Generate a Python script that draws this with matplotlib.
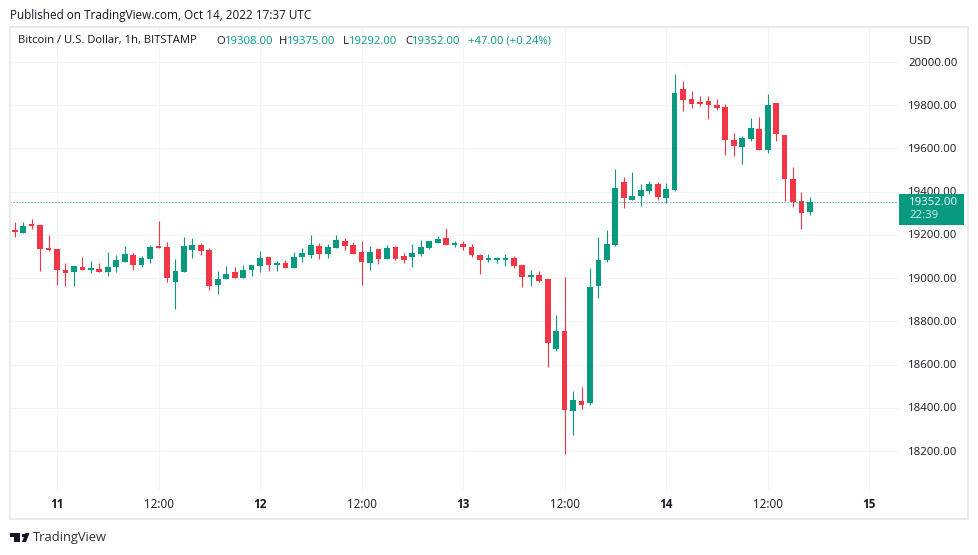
import numpy as np
import matplotlib
matplotlib.use("Agg")
from matplotlib import pyplot as plt
from matplotlib.patches import Polygon, Rectangle

# hours since Oct 11 00:00, one candle per hour
hours = list(range(-5, 90))

opens = [19223, 19211, 19248, 19246, 19140, 19133, 19038, 19029, 19052, 19038,
         19042, 19029, 19052, 19076, 19107, 19061, 19090, 19149, 19144, 18982,
         19029, 19130, 19154, 19130, 18968, 18996, 19029, 19001, 19038, 19056,
         19098, 19062, 19068, 19047, 19098, 19109, 19149, 19112, 19141, 19172,
         19153, 19121, 19070, 19135, 19088, 19144, 19102, 19098, 19112, 19139,
         19163, 19186, 19155, 19158, 19143, 19107, 19084, 19084, 19084, 19093,
         19061, 19005, 19015, 18996, 18672, 18755, 18385, 18432, 18422, 18964,
         19084, 19153, 19445, 19361, 19380, 19403, 19435, 19371, 19408, 19875,
         19829, 19815, 19819, 19801, 19792, 19639, 19607, 19644, 19690, 19593,
         19810, 19662, 19459, 19357, 19308]
highs = [19258, 19258, 19274, 19248, 19200, 19133, 19069, 19056, 19096, 19080,
         19069, 19121, 19107, 19149, 19115, 19103, 19154, 19266, 19167, 19089,
         19192, 19184, 19161, 19138, 19033, 19058, 19053, 19061, 19061, 19127,
         19099, 19081, 19084, 19122, 19141, 19200, 19161, 19158, 19200, 19187,
         19167, 19172, 19149, 19135, 19153, 19149, 19116, 19158, 19176, 19172,
         19195, 19232, 19172, 19172, 19158, 19112, 19112, 19098, 19112, 19102,
         19061, 19038, 19033, 18998, 18829, 19005, 18478, 18496, 19047, 19192,
         19223, 19505, 19468, 19491, 19435, 19449, 19445, 19440, 19944, 19912,
         19866, 19843, 19843, 19829, 19804, 19670, 19658, 19739, 19745, 19852,
         19810, 19662, 19514, 19398, 19375]
lows = [19192, 19211, 19229, 19035, 19127, 18967, 18964, 18964, 19038, 19022,
        19029, 19010, 19029, 19076, 19038, 19053, 19072, 19140, 18984, 18859,
        19029, 19093, 19109, 18945, 18927, 18996, 19001, 19001, 19010, 19030,
        19035, 19035, 19047, 19047, 19076, 19095, 19088, 19093, 19141, 19130,
        19112, 18967, 19038, 19065, 19088, 19084, 19070, 19052, 19102, 19135,
        19163, 19153, 19144, 19130, 19099, 19019, 19076, 19070, 19056, 19047,
        18959, 18964, 18982, 18589, 18663, 18186, 18274, 18395, 18413, 18908,
        19075, 19149, 19324, 19361, 19334, 19389, 19361, 19348, 19403, 19773,
        19787, 19796, 19736, 19778, 19570, 19565, 19528, 19634, 19593, 19579,
        19634, 19357, 19329, 19227, 19292]
closes = [19214, 19241, 19243, 19137, 19130, 19038, 19026, 19056, 19038, 19042,
          19029, 19050, 19084, 19112, 19061, 19092, 19144, 19140, 19002, 19033,
          19149, 19154, 19126, 18964, 18996, 19019, 19001, 19038, 19061, 19092,
          19062, 19067, 19047, 19098, 19116, 19153, 19112, 19144, 19176, 19149,
          19112, 19075, 19121, 19088, 19139, 19088, 19084, 19116, 19144, 19172,
          19181, 19153, 19159, 19144, 19107, 19084, 19093, 19093, 19093, 19056,
          19005, 19015, 18985, 18700, 18755, 18390, 18436, 18413, 18959, 19084,
          19158, 19417, 19371, 19380, 19408, 19435, 19375, 19412, 19856, 19826,
          19806, 19806, 19801, 19787, 19639, 19611, 19648, 19695, 19593, 19801,
          19667, 19459, 19351, 19301, 19352]

price_ticks = [18200, 18400, 18600, 18800, 19000, 19200, 19400, 19600, 19800, 20000]
day_ticks = [0, 24, 48, 72, 96]
day_labels = ["11", "12", "13", "14", "15"]
noon_ticks = [12, 36, 60, 84]
noon_labels = ["12:00", "12:00", "12:00", "12:00"]
last_price = 19352

UP = "#089981"
DOWN = "#f23645"
GRID = "#f3f3f3"
BORDER = "#e8e8e8"
TEXT = "#131722"
FONT = "Open Sans"

W, H = 979, 555
fig = plt.figure(figsize=(W / 100, H / 100), dpi=100, facecolor="white")
plt.rcParams["font.family"] = FONT

# chart pane, in pixels: x 10-898, y 27-490
ax = fig.add_axes([10 / W, 1 - 490 / H, 888 / W, 463 / H])
ax.set_xlim((10 - 57) / 8.46, (898 - 57) / 8.46)
ax.set_ylim(20000 - (490 - 62) * 4.627, 20000 + (62 - 27) * 4.627)
ax.set_axisbelow(True)

ax.set_xticks(day_ticks + noon_ticks)
ax.set_yticks(price_ticks)
ax.set_xticklabels([])
ax.set_yticklabels([])
ax.grid(True, color=GRID, lw=0.8)
ax.tick_params(length=0)
for s in ax.spines.values():
    s.set_visible(False)

for h, o, hi, lo, c in zip(hours, opens, highs, lows, closes):
    col = UP if c >= o else DOWN
    ax.vlines(h, lo, hi, color=col, lw=0.8, zorder=3)
    ax.bar(h, max(abs(c - o), 9), bottom=min(o, c), width=0.68, color=col, lw=0, zorder=4)

ax.axhline(last_price, color=UP, lw=0.72, ls=(0, (1, 2)), zorder=5)

# labels for the two scales
for p in price_ticks:
    ax.annotate(f"{p:.2f}", (1, p), xycoords=("axes fraction", "data"),
                xytext=(10, -1), textcoords="offset pixels", ha="left", va="center",
                fontsize=8.2, color=TEXT, annotation_clip=False)
for t, lab in zip(day_ticks, day_labels):
    ax.annotate(lab, (t, 0), xycoords=("data", "axes fraction"), xytext=(0, -15),
                textcoords="offset pixels", ha="center", va="center", fontsize=8.4,
                fontweight="bold", color=TEXT, annotation_clip=False)
for t, lab in zip(noon_ticks, noon_labels):
    ax.annotate(lab, (t, 0), xycoords=("data", "axes fraction"), xytext=(0, -15),
                textcoords="offset pixels", ha="center", va="center", fontsize=8.4,
                color=TEXT, annotation_clip=False)


def px(x, y):
    return x / W, 1 - y / H


# outer frame only
for x0, y0, x1, y1 in [(10, 27, 968, 27), (10, 519, 968, 519), (10, 27, 10, 519),
                       (968, 27, 968, 519)]:
    a, b = px(x0, y0)
    c, d = px(x1, y1)
    fig.add_artist(plt.Line2D([a, c], [b, d], color=BORDER, lw=1.2))

# last price tag
a, b = px(899, 225)
fig.add_artist(Rectangle((a, b), 65 / W, 31 / H, color=UP, lw=0, zorder=6))
fig.text(*px(909, 202), "19352.00", fontsize=8.2, color="white", va="center", zorder=7)
fig.text(*px(909, 216), "22:39", fontsize=8.2, color="#d5f2ec", va="center", zorder=7)

fig.text(*px(10, 15), "Published on TradingView.com, Oct 14, 2022 17:37 UTC",
         fontsize=8.45, color=TEXT, va="center")
fig.text(*px(909, 41), "USD", fontsize=8, color=TEXT, va="center")

# legend line, pieces placed one after the other
for x, s, col in [(18, "Bitcoin / U.S. Dollar, 1h, BITSTAMP", TEXT),
                  (216, "O", TEXT), (225, "19308.00", UP),
                  (279, "H", TEXT), (287, "19375.00", UP),
                  (343, "L", TEXT), (349, "19292.00", UP),
                  (405, "C", TEXT), (412, "19352.00", UP),
                  (468, "+47.00 (+0.24%)", UP)]:
    fig.text(*px(x, 41), s, fontsize=8.1, color=col, va="center")

# TradingView logo and name
logo = [[(10, 533), (20, 533), (20, 542), (14.5, 542), (14.5, 537), (10, 537)],
        [(22, 542), (25.5, 533), (29.5, 533), (26, 542)]]
for pts in logo:
    fig.add_artist(Polygon([px(*p) for p in pts], closed=True, color=TEXT, lw=0))
a, b = px(22.5, 535)
fig.add_artist(plt.Rectangle((a, b - 1.5 / H), 3 / W, 3 / H, color=TEXT, lw=0))
fig.text(*px(33, 537), "TradingView", fontsize=9.3, color="#2e2e2e", va="center")

fig.savefig("out.png", dpi=100)
